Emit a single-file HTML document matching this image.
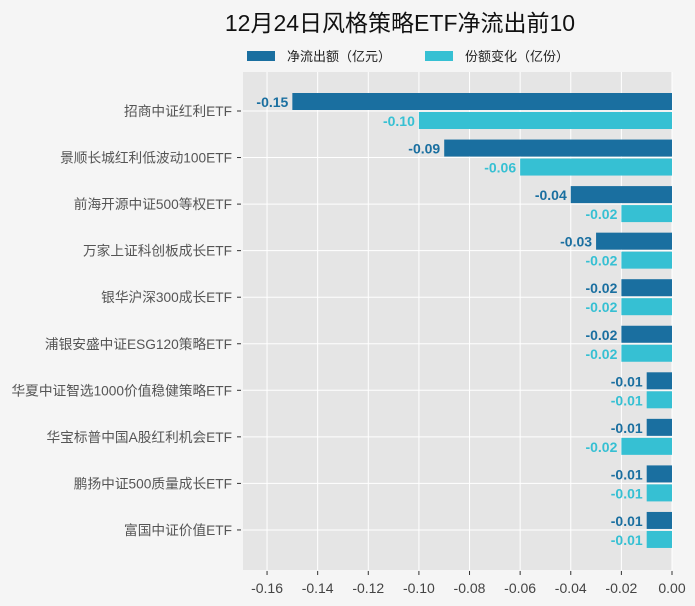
<!DOCTYPE html>
<html><head><meta charset="utf-8"><style>
body{margin:0;background:#f5f5f5;}
svg{display:block;font-family:"Liberation Sans","Noto Sans CJK SC",sans-serif;}
</style></head><body>
<svg width="695" height="606" viewBox="0 0 695 606">
<rect width="695" height="606" fill="#f5f5f5"/>
<text x="400" y="31" font-size="23" text-anchor="middle" fill="#111">12月24日风格策略ETF净流出前10</text>
<rect x="247" y="51" width="28" height="10" fill="#1a6fa0"/>
<text x="287" y="61" font-size="13" fill="#222">净流出额（亿元）</text>
<rect x="425" y="51" width="28" height="10" fill="#36c0d3"/>
<text x="465" y="61" font-size="13" fill="#222">份额变化（亿份）</text>
<rect x="243" y="72" width="429" height="498" fill="#e5e5e5"/>
</svg>
<script>
var ns="http://www.w3.org/2000/svg",svg=document.querySelector('svg');
function el(t,a,txt){var e=document.createElementNS(ns,t);for(var k in a)e.setAttribute(k,a[k]);if(txt!=null)e.textContent=txt;svg.appendChild(e);return e;}
var x0=672,s=2531;
for(var i=0;i<=8;i++){var v=-0.16+i*0.02,x=x0+v*s;
el('line',{x1:x,x2:x,y1:72,y2:570,stroke:'#fff'});
el('line',{x1:x,x2:x,y1:571,y2:575,stroke:'#333'});
el('text',{x:x,y:593,'font-size':14,'text-anchor':'middle',fill:'#444'},v.toFixed(2).replace('-0.00','0.00'));}
var names=["招商中证红利ETF","景顺长城红利低波动100ETF","前海开源中证500等权ETF","万家上证科创板成长ETF","银华沪深300成长ETF","浦银安盛中证ESG120策略ETF","华夏中证智选1000价值稳健策略ETF","华宝标普中国A股红利机会ETF","鹏扬中证500质量成长ETF","富国中证价值ETF"];
var a=[0.15,0.09,0.04,0.03,0.02,0.02,0.01,0.01,0.01,0.01],b=[0.10,0.06,0.02,0.02,0.02,0.02,0.01,0.02,0.01,0.01];
for(var i=0;i<10;i++){var c=111+i*46.55;
el('line',{x1:243,x2:672,y1:c,y2:c,stroke:'#fff'});
el('line',{x1:237,x2:241,y1:c,y2:c,stroke:'#333'});
el('text',{x:232,y:c+5,'font-size':13.7,'text-anchor':'end',fill:'#555'},names[i]);
var w=a[i]*s;el('rect',{x:x0-w,y:c-18,width:w,height:17,fill:'#1a6fa0'});
el('text',{x:x0-w-4,y:c-4,'font-size':14,'font-weight':'bold','text-anchor':'end',fill:'#1a6fa0'},'-'+a[i].toFixed(2));
w=b[i]*s;el('rect',{x:x0-w,y:c+1,width:w,height:17,fill:'#36c0d3'});
el('text',{x:x0-w-4,y:c+15,'font-size':14,'font-weight':'bold','text-anchor':'end',fill:'#36c0d3'},'-'+b[i].toFixed(2));}
</script>
</body></html>
